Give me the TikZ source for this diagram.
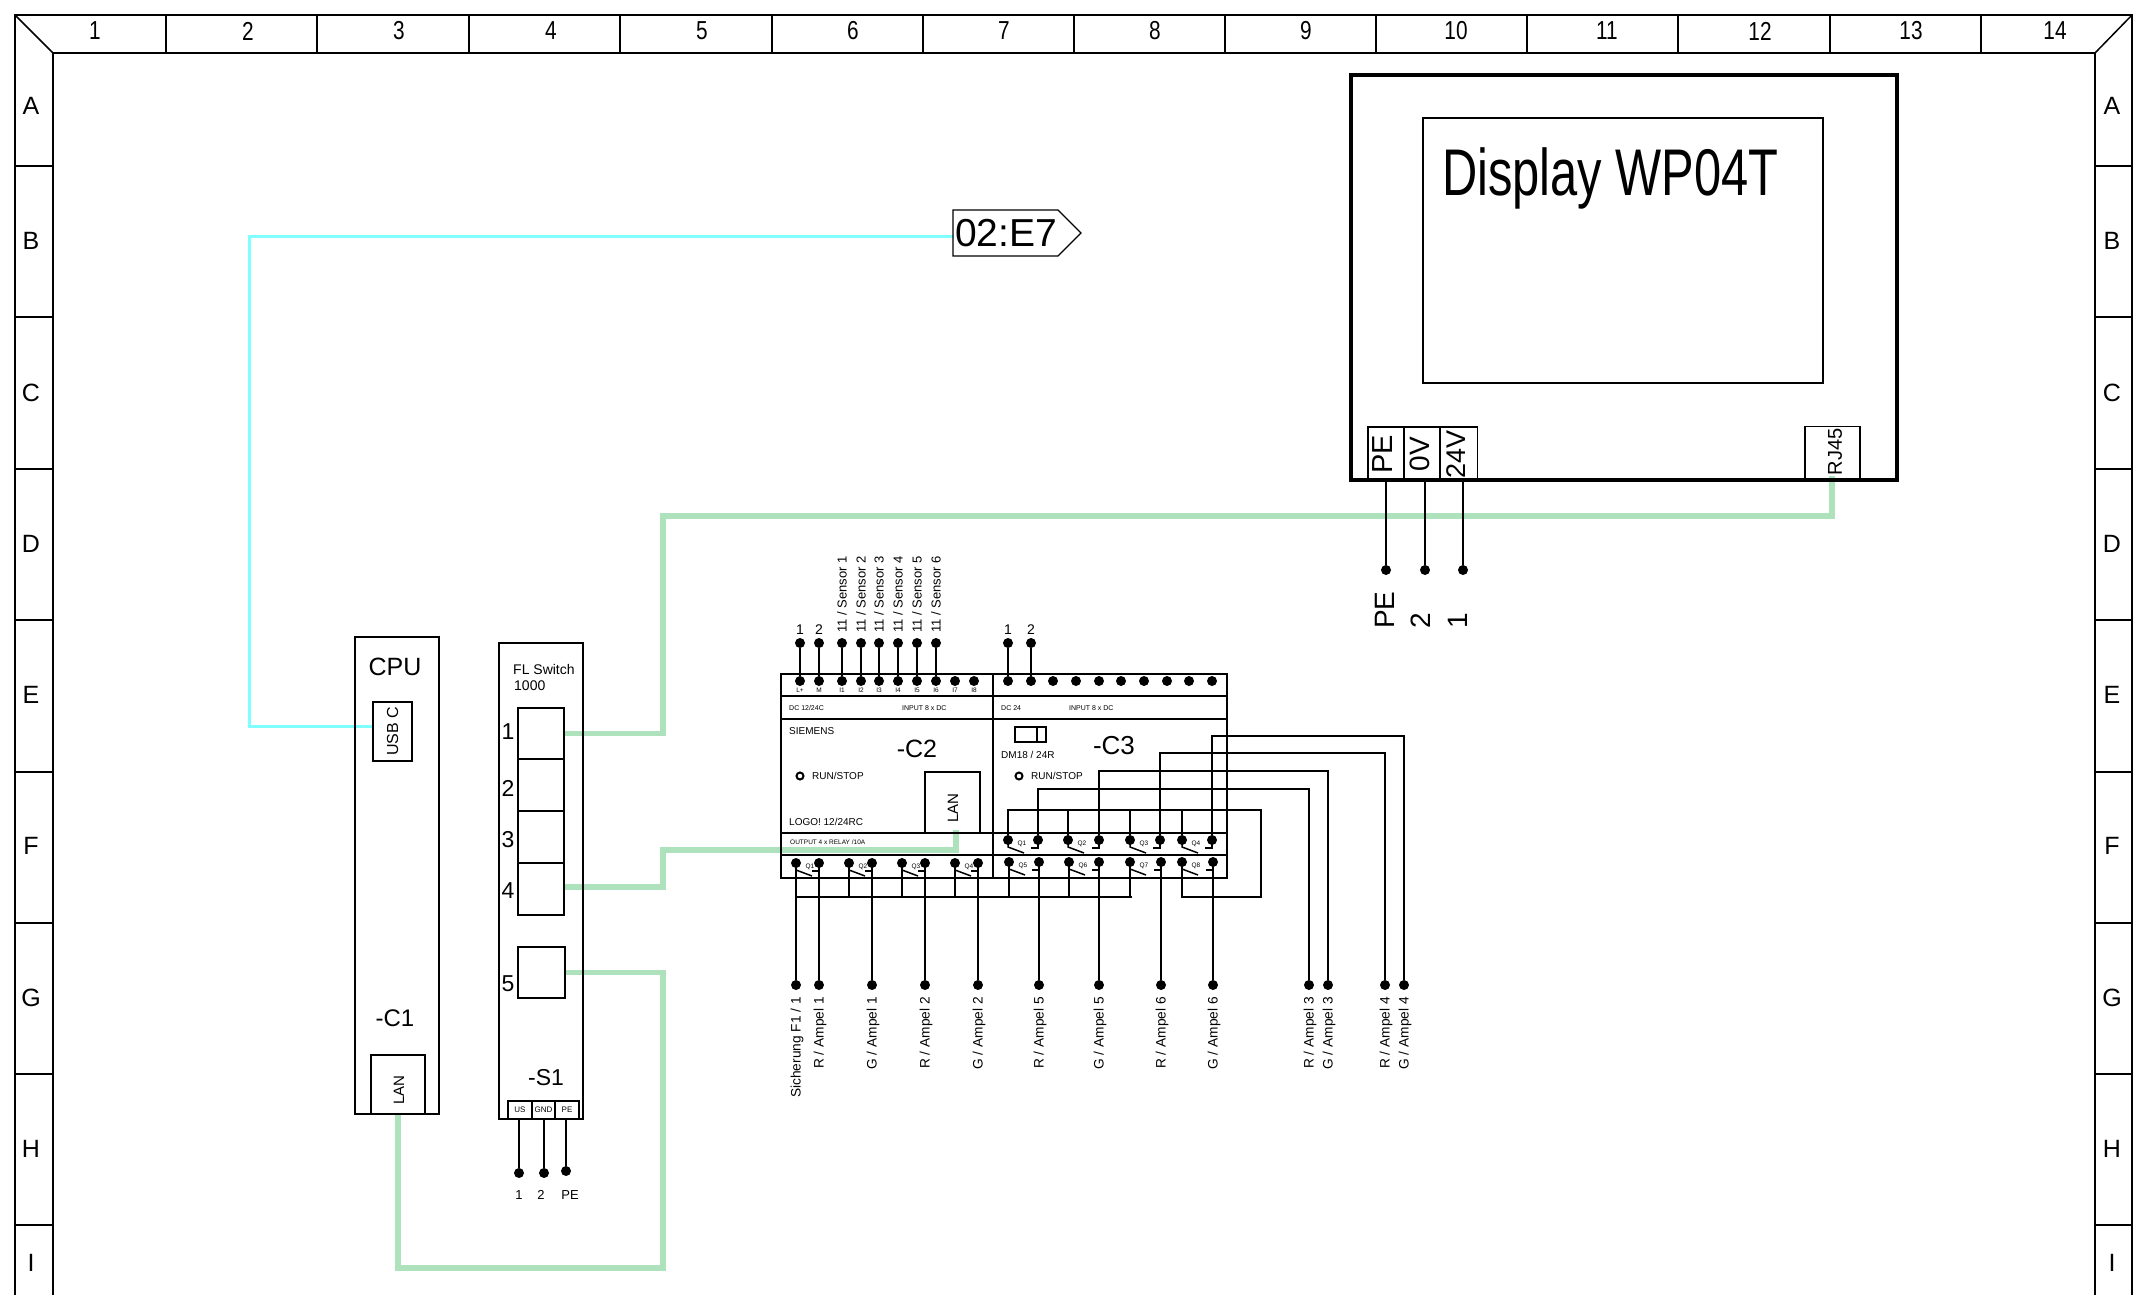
\documentclass[tikz,border=0pt]{standalone}
\usepackage{fontspec}
\setmainfont{Liberation Sans}
\newcommand{\fsz}[1]{\fontsize{#1}{#1}\selectfont}
\definecolor{lancol}{HTML}{AEE2BC}
\definecolor{usbcol}{HTML}{80FFFF}
\tikzset{
	frameline/.style={line width=2.5pt, line cap=rect},
	lbl/.style={font=\fsz{#1}, inner sep=0pt},
	box/.style={draw, line width=1.3pt, inner sep=0pt, anchor=center},
	dot/.style={circle, fill=black, inner sep=0pt, minimum size=10pt},
	wire/.style={line width=2pt},
	thinwire/.style={line width=1.5pt},
	lanwire/.style={line width=5.5pt, color=lancol},
	usbwire/.style={line width=3pt, color=usbcol},
}
\begin{document}
\begin{tikzpicture}[x=1pt, y=-1pt]
	\useasboundingbox (0,0) rectangle (2134,1294);
	% frame
	\draw[frameline] (15,1294) -- (15,15) -- (2132,15) -- (2132,1294);
	\draw[frameline] (53,1294) -- (53,53) -- (2095,53) -- (2095,1294);
	\draw[thinwire] (15,15) -- (53,53);
	\draw[thinwire] (2132,15) -- (2095,53);
	\foreach \x in {166,317,469,620,772,923,1074,1225,1376,1527,1678,1830,1981} \draw[thinwire] (\x,15) -- (\x,53);
	\foreach \y in {166,317,469,620,772,923,1074,1225} {
		\draw[thinwire] (15,\y) -- (53,\y);
		\draw[thinwire] (2095,\y) -- (2132,\y);
	}
	\foreach \t/\x in {1/95,2/248,3/399,4/551,5/702,6/853,7/1004,8/1155,9/1306,10/1456,11/1607,12/1760,13/1911,14/2055}
		\node[lbl=26, xscale=.8] (col\t) at (\x,31) {\t};
	\foreach \t/\y in {A/106,B/241,C/393,D/544,E/695,F/846,G/998,H/1149,I/1263} {
		\node[lbl=25] (rowL\t) at (31,\y) {\t};
		\node[lbl=25] (rowR\t) at (2112,\y) {\t};
	}

	% lan and usb cables lie under the rest
	\node[box, minimum width=46, minimum height=51] (p1) at (541,733.5) {};
	\node[box, minimum width=46, minimum height=52] (p2) at (541,785) {};
	\node[box, minimum width=46, minimum height=52] (p3) at (541,837) {};
	\node[box, minimum width=46, minimum height=52] (p4) at (541,889) {};
	\node[box, minimum width=47, minimum height=51] (p5) at (541.5,972.5) {};
	\node[box, minimum width=54, minimum height=59] (lanC1) at (398,1084.5) {};
	\node[box, minimum width=55, minimum height=61] (lanC2) at (952.5,802.5) {};
	\node[box, minimum width=55, minimum height=54.5] (rj45) at (1832.5,453.5) {};
	\coordinate (lanD) at (663,516);
	\coordinate (lanF) at (663,850);
	\coordinate (lanI) at (663,1268);
	\coordinate (lanPinC2) at (956,830);
	\coordinate (lanPinDsp) at (1832,476);
	\draw[lanwire] (p1.east) -| (lanD) -| (lanPinDsp);
	\draw[lanwire] ([yshift=2pt]p4.east) -| (lanF) -| (lanPinC2);
	\draw[lanwire] (p5.east) -| (lanI) -| (lanC1.south);
	\coordinate (usbPin) at (373,726);
	\coordinate (usbBend) at (249,236);
	\coordinate (tagPin) at (954,236);
	\draw[usbwire] (usbPin) -| (usbBend) -- (tagPin);
	\node[lbl=20, rotate=90] (rj45T) at (1835,452) {RJ45};

	% tag
	\draw[line width=1.2pt] (953,210) -- (1058,210) -- (1081,233) -- (1058,256) -- (953,256) -- cycle;
	\node[lbl=39, anchor=west] (tagE7) at (955,233) {02:E7};

	% display
	\node[box, line width=3.5pt, minimum width=546, minimum height=405] (dsp) at (1624,277.5) {};
	\node[box, minimum width=400, minimum height=265] (dspIn) at (1623,250.5) {};
	\node[lbl=66, anchor=base west, xscale=.74] (dspT) at (1442,195) {Display WP04T};
	\node[box, minimum width=36, minimum height=54] (dspPE) at (1386,454) {};
	\node[box, minimum width=36, minimum height=54] (dsp0V) at (1422,454) {};
	\node[box, minimum width=36.5, minimum height=54] (dsp24) at (1459,454) {};
	\node[lbl=29, rotate=90] (dspPET) at (1383,454) {PE};
	\node[lbl=28, rotate=90] (dsp0VT) at (1420,454) {0V};
	\node[lbl=27, rotate=90] (dsp24T) at (1456,454) {24V};
	\foreach \n/\x/\xx/\t in {dspPE/1386/1385/PE,dsp0V/1425/1421/2,dsp24/1463/1458/1} {
		\node[dot] (\n Pin) at (\x,570) {};
		\node[lbl=28, rotate=90, anchor=west] (\n L) at (\xx,629) {\t};
		\draw[wire] (\n.south -| \n Pin) -- (\n Pin);
	}

	% cpu
	\node[box, minimum width=84, minimum height=477] (cpu) at (397,875.5) {};
	\node[lbl=25] (cpuT) at (395,667) {CPU};
	\node[box, rotate=90, minimum width=59, minimum height=39, lbl=16] (usbC) at (392.5,731.5) {USB C};
	\node[lbl=24] (cpuN) at (395,1018) {-C1};
	\node[lbl=15, rotate=90] (lanC1T) at (399,1090) {LAN};

	% switch
	\node[box, minimum width=84, minimum height=476] (sw) at (541,881) {};
	\node[lbl=14, anchor=west] (swT1) at (513,669) {FL Switch};
	\node[lbl=14, anchor=west] (swT2) at (514,686) {1000};
	\foreach \t/\y in {1/732,2/788,3/840,4/891,5/984} \node[lbl=23] (swN\t) at (508,\y) {\t};
	\node[lbl=23] (swN) at (546,1078) {-S1};
	\foreach \n/\x/\w/\t in {us/520/24/US,gnd/543.5/23/GND,pe/567/24/PE}
		\node[box, minimum width=\w, minimum height=18, lbl=8] (\n) at (\x,1110) {\t};
	\foreach \n/\x/\y/\t/\xx in {us/519/1173/1/519,gnd/544/1173/2/541,pe/566/1171/PE/570} {
		\node[dot] (\n Pin) at (\x,\y) {};
		\node[lbl=13] (\n T) at (\xx,1195) {\t};
		\draw[wire] (\n.south -| \n Pin) -- (\n Pin);
	}

	% logo modules
	\node[box, line width=2pt, minimum width=212, minimum height=204] (c2) at (887,776) {};
	\node[box, line width=2pt, minimum width=234, minimum height=204] (c3) at (1110,776) {};
	\foreach \y in {696,719,855} \draw[wire] (c2.west |- 0,\y) -- (c3.east |- 0,\y);
	\draw[thinwire] (c2.west |- 0,833) -- (c3.east |- 0,833);
	\foreach \x/\t [count=\i] in {800/L+,819/M,842/I1,861/I2,879/I3,898/I4,917/I5,936/I6,955/I7,974/I8} {
		\node[dot] (cIn\i) at (\x,681) {};
		\node[lbl=6.5] (cInT\i) at (\x,690.5) {\t};
	}
	\foreach \x [count=\i] in {1008,1031,1053,1076,1099,1121,1144,1167,1189,1212} \node[dot] (dIn\i) at (\x,681) {};
	\foreach \n/\a/\x/\t in {cIn1/a1/800/1,cIn2/a2/819/2,dIn1/b1/1008/1,dIn2/b2/1031/2} {
		\node[dot] (\a) at (\x,643) {};
		\node[lbl=14] (\a T) at (\x,630) {\t};
		\draw[wire] (\n) -- (\a);
	}
	\foreach \n/\x [count=\s] in {3/842,4/861,5/879,6/898,7/917,8/936} {
		\node[dot] (sens\s) at (\x,643) {};
		\node[lbl=13, rotate=90, anchor=west] (sensT\s) at (\x,633) {11 / Sensor \s};
		\draw[wire] (cIn\n) -- (sens\s);
	}
	\node[lbl=7, anchor=west] (c2dc) at (789,708) {DC 12/24C};
	\node[lbl=7, anchor=west] (c2in) at (902,708) {INPUT 8 x DC};
	\node[lbl=7, anchor=west] (c3dc) at (1001,708) {DC 24};
	\node[lbl=7, anchor=west] (c3in) at (1069,708) {INPUT 8 x DC};
	\node[lbl=10, anchor=west] (c2si) at (789,731) {SIEMENS};
	\node[lbl=25] (c2N) at (917,749) {-C2};
	\node[lbl=26] (c3N) at (1114,746) {-C3};
	\node[circle, draw, line width=2pt, inner sep=0pt, minimum size=7] (c2run) at (800,776) {};
	\node[lbl=10, anchor=west] (c2runT) at (812,776) {RUN/STOP};
	\node[circle, draw, line width=2pt, inner sep=0pt, minimum size=7] (c3run) at (1019,776) {};
	\node[lbl=10, anchor=west] (c3runT) at (1031,776) {RUN/STOP};
	\node[lbl=10, anchor=west] (c2logo) at (789,822) {LOGO! 12/24RC};
	\node[lbl=15, rotate=90] (lanC2T) at (953,808) {LAN};
	\node[lbl=6.5, anchor=west] (c2out) at (790,842) {OUTPUT 4 x RELAY /10A};
	\node[box, minimum width=31, minimum height=15] (dm) at (1030.5,734.5) {};
	\draw[thinwire] (dm.north -| 1037,0) -- (dm.south -| 1037,0);
	\node[lbl=10, anchor=west] (dmT) at (1001,755) {DM18 / 24R};

	% relay contacts
	\foreach \n/\ka/\kb/\y/\t in {k1/796/819/863/Q1,k2/849/872/863/Q2,k3/902/925/863/Q3,k4/955/978/863/Q4,
		k5/1008/1038/840/Q1,k6/1068/1099/840/Q2,k7/1130/1160/840/Q3,k8/1182/1212/840/Q4,
		k9/1009/1039/862/Q5,k10/1069/1099/862/Q6,k11/1130/1161/862/Q7,k12/1182/1213/862/Q8} {
		\node[dot] (\n a) at (\ka,\y) {};
		\node[dot] (\n b) at (\kb,\y) {};
		\node[lbl=6.5] (\n T) at (\ka+14,\y+4) {\t};
		\draw[thinwire] (\n a.center) -- ++(0,7) -- ++(16,6);
		\draw[thinwire] (\n b.center) -- ++(0,8) -- ++(-7,0);
	}
	\foreach \x/\t [count=\i] in {796/{Sicherung F1 / 1},819/{R / Ampel 1},872/{G / Ampel 1},925/{R / Ampel 2},978/{G / Ampel 2},
		1039/{R / Ampel 5},1099/{G / Ampel 5},1161/{R / Ampel 6},1213/{G / Ampel 6},
		1309/{R / Ampel 3},1328/{G / Ampel 3},1385/{R / Ampel 4},1404/{G / Ampel 4}} {
		\node[dot] (o\i) at (\x,985) {};
		\node[lbl=13.7, rotate=90, anchor=east] (oT\i) at (\x+1,997) {\t};
	}
	\foreach \k/\o in {k1a/o1,k1b/o2,k2b/o3,k3b/o4,k4b/o5,k9b/o6,k10b/o7,k11b/o8,k12b/o9} \draw[wire] (\k) -- (\o);
	\foreach \k/\o/\y in {k5b/o10/789,k6b/o11/771,k7b/o12/753,k8b/o13/736} \draw[thinwire] (\k) -- (\k |- 0,\y) -| (\o);

	% common lines of the contacts
	\coordinate (busA) at (796,897);
	\coordinate (busB) at (1132,897);
	\coordinate (busC) at (1261,810);
	\coordinate (busD) at (1261,897);
	\draw[thinwire] (busA) -- (busB);
	\foreach \k in {k2a,k3a,k4a,k9a,k10a,k11a} \draw[wire] (\k) -- (\k |- busA);
	\draw[thinwire] (k5a) |- (busC) -- (busD) -| (k12a);
	\foreach \k in {k6a,k7a,k8a} \draw[wire] (\k) -- (\k |- busC);
\end{tikzpicture}
\end{document}
